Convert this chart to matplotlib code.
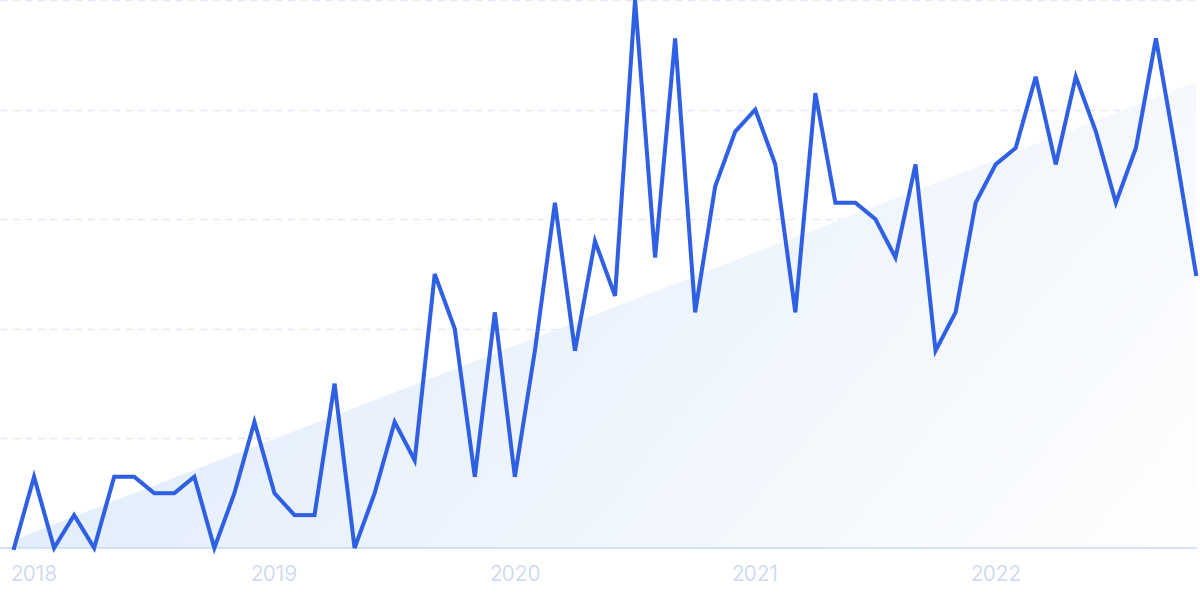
import numpy as np
import matplotlib
matplotlib.use("Agg")
import matplotlib.pyplot as plt
from matplotlib.path import Path
from matplotlib.patches import PathPatch
from matplotlib.colors import to_rgb

values = [0, 13, 0, 6, 0, 13, 13, 10, 10, 13,
          0, 10, 23, 10, 6, 6, 30, 0, 10, 23,
          16, 50, 40, 13, 43, 13, 36, 63, 36, 56,
          46, 100, 53, 93, 43, 66, 76, 80, 70, 43,
          83, 63, 63, 60, 53, 70, 36, 43, 63, 70,
          73, 86, 70, 86, 76, 63, 73, 93, 72, 50]
year_labels = ["2018", "2019", "2020", "2021", "2022"]
year_positions = [1, 13, 25, 37, 49]
trend_start = 1.5
trend_end = 85.0

x = np.arange(len(values))
n = len(values)

fig = plt.figure(figsize=(12, 6), dpi=100)
ax = fig.add_axes([0, 52 / 600, 1196 / 1200, 548 / 600])
ax.set_xlim(-0.7, n - 1)
ax.set_ylim(0, 100)
ax.axis("off")

# gradient trend area
verts = [(0, 0), (0, trend_start), (n - 1, trend_end), (n - 1, 0), (0, 0)]
path = Path(verts, [Path.MOVETO, Path.LINETO, Path.LINETO, Path.LINETO, Path.CLOSEPOLY])
patch = PathPatch(path, facecolor="none", edgecolor="none")
ax.add_patch(patch)
gx = np.linspace(0, 1, 300)
gy = np.linspace(0, 1, 150)
GX, GY = np.meshgrid(gx, gy)
t = np.clip(0.9 * GX - 0.35 * GY + 0.08, 0, 1)
c0 = np.array(to_rgb("#e1edfc"))
c1 = np.array(to_rgb("#ffffff"))
img = c0[None, None, :] * (1 - t[..., None]) + c1[None, None, :] * t[..., None]
im = ax.imshow(img, extent=[0, n - 1, 0, 100], origin="lower", aspect="auto", zorder=1)
im.set_clip_path(patch)

# grid lines
for gv in [20, 40, 60, 80, 100]:
    ax.plot([-0.7, n - 1], [gv, gv], color="#dfe8f8", lw=1.0,
            dashes=(5, 4), zorder=0.5, clip_on=False)
ax.plot([-0.7, n - 1], [0, 0], color="#c9dffa", lw=1.2, zorder=2, clip_on=False)

ax.plot(x, values, color="#2f5fe3", lw=2.9, zorder=3, solid_joinstyle="miter",
        clip_on=False)

for lab, pos in zip(year_labels, year_positions):
    ax.text(pos, -4.9, lab, ha="center", va="center", fontsize=15,
            color="#cfdaf3", family="Inter")

fig.savefig("out.png", dpi=100)
